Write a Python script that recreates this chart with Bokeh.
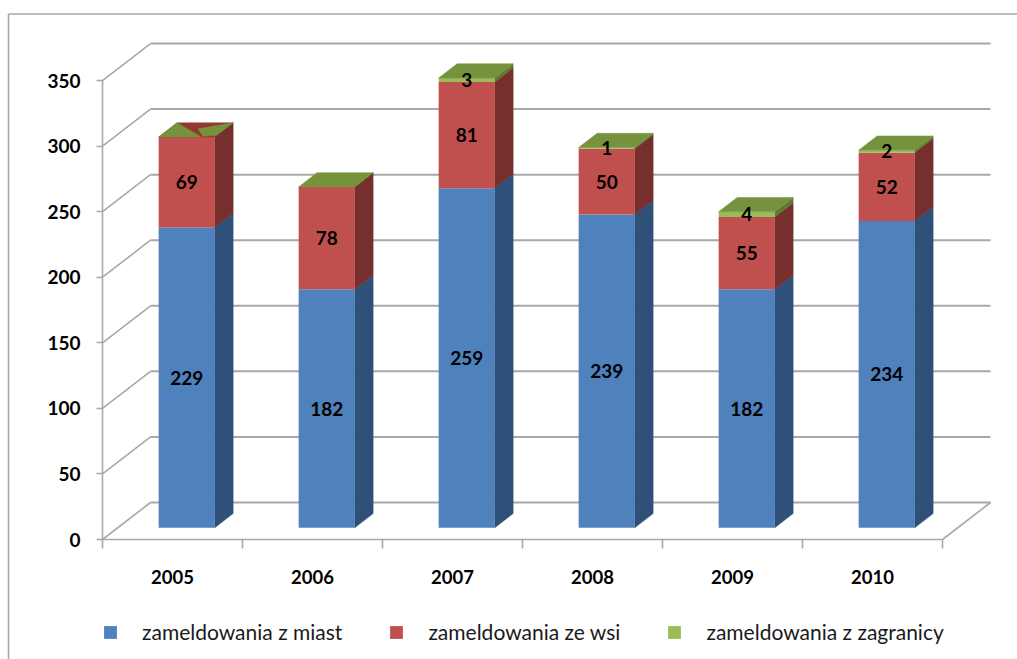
import numpy as np
from bokeh.core.properties import value
from bokeh.embed import file_html
from bokeh.models import ColumnDataSource, FixedTicker, Legend, LegendItem, LinearAxis, Range1d
from bokeh.plotting import figure
from bokeh.resources import INLINE

years = ["2005", "2006", "2007", "2008", "2009", "2010"]
series_names = ["zameldowania z miast", "zameldowania ze wsi", "zameldowania z zagranicy"]
z_miast = [229, 182, 259, 239, 182, 234]
ze_wsi = [69, 78, 81, 50, 55, 52]
z_zagranicy = [0, 0, 3, 1, 4, 2]
y_ticks = [0, 50, 100, 150, 200, 250, 300, 350]

front_colors = ["#4f81bd", "#c0504d", "#9bbb59"]
side_colors = ["#2f5078", "#772f2d", "#5f7a30"]
top_green = "#76923c"
top_red = "#943634"
grid_color = "#a8a8a8"
font = "Lato"

PX_BAND = 140.0          # pixels per category band
PX_UNIT = 1.3114         # pixels per unit of value
W, H = 1017, 659
AX_X, AX_Y = 102.0, 539.0 # canvas position of the axes' origin

x_start = -AX_X / PX_BAND
x_end = (W - AX_X) / PX_BAND
y_end = AX_Y / PX_UNIT
y_start = (AX_Y - H) / PX_UNIT

DX = 48 / PX_BAND        # wall depth in data units
DY = 37 / PX_UNIT
BAR_W = 0.4
SHIFT_X = 0.295          # bar's front plane inside the depth
SHIFT_Y = 0.315
DEPTH = 0.385            # bar's depth as a share of the wall depth

p = figure(width=W, height=H, output_backend="svg", toolbar_location=None,
           x_range=Range1d(x_start, x_end), y_range=Range1d(y_start, y_end),
           x_axis_type=None, y_axis_type=None, min_border=0,
           background_fill_color="white", border_fill_color="white",
           outline_line_color=None)
p.grid.visible = False

# chart box
box_x = x_start + 8 / PX_BAND
box_y = y_end - 13.5 / PX_UNIT
p.line([box_x, box_x], [y_start, box_y], line_color=grid_color, line_width=1.6)
p.line([box_x, x_end], [box_y, box_y], line_color=grid_color, line_width=1.6)

# walls and floor
n = len(years)
ticks = np.array(y_ticks, dtype=float)
p.multi_line([[DX, n + DX] for _ in ticks], [[t + DY, t + DY] for t in ticks],
             line_color=grid_color, line_width=2)
p.multi_line([[0, DX] for _ in ticks], [[t, t + DY] for t in ticks],
             line_color=grid_color, line_width=1.6)
p.line([n, n + DX], [0, DY], line_color=grid_color, line_width=1.6)

# stacked bars
values = np.array([z_miast, ze_wsi, z_zagranicy], dtype=float)
bases = np.vstack([np.zeros(n), np.cumsum(values, axis=0)[:-1]])
tops = bases + values
fx, fy = SHIFT_X * DX, SHIFT_Y * DY
ddx, ddy = DEPTH * DX, DEPTH * DY
lefts = np.arange(n) + 0.5 - BAR_W / 2 + fx
rights = lefts + BAR_W

front_renderers = []
for s in range(3):
    low = bases[s] + fy
    high = tops[s] + fy
    xs = [[r, r + ddx, r + ddx, r] for r in rights]
    ys = [[b, b + ddy, t + ddy, t] for b, t in zip(low, high)]
    p.patches(xs, ys, fill_color=side_colors[s], line_color=side_colors[s], line_width=0.5)
    src = ColumnDataSource(dict(left=lefts, right=rights, bottom=low, top=high))
    front_renderers.append(
        p.quad(left="left", right="right", bottom="bottom", top="top", source=src,
               fill_color=front_colors[s], line_color=None))

# top faces; the first one shows the overlap of the empty segment
stack = tops[-1] + fy
def face(i, u, v):
    return (lefts[i] + u * BAR_W + v * ddx, stack[i] + v * ddy)

xs, ys, colors = [], [], []
def add_face(i, corners, color):
    pts = [face(i, u, v) for u, v in corners]
    xs.append([a for a, _ in pts])
    ys.append([b for _, b in pts])
    colors.append(color)

for i in range(n):
    add_face(i, [(0, 0), (1, 0), (1, 1), (0, 1)], top_red if i == 0 else top_green)
add_face(0, [(0, 0), (0, 1), (0.76, 0)], top_green)
add_face(0, [(0.51, 0.58), (1, 1), (0.99, 0.12), (0.775, 0.05)], top_green)
p.patches(xs, ys, fill_color=colors, line_color=colors, line_width=0.5)

# data labels
lab_x, lab_y, lab_t = [], [], []
for s in range(3):
    for i in range(n):
        if values[s, i] > 0:
            lab_x.append(lefts[i] + BAR_W / 2)
            lab_y.append((bases[s, i] + tops[s, i]) / 2 + fy)
            lab_t.append(str(int(values[s, i])))
p.text(lab_x, lab_y, text=lab_t, text_align="center", text_baseline="middle",
       text_font=value(font), text_font_style="bold", text_font_size="19px", text_color="black")

# axes
left = LinearAxis(ticker=FixedTicker(ticks=y_ticks), fixed_location=0, bounds=(0, 350))
left.major_tick_in = 0
left.major_tick_out = 6
left.minor_tick_line_color = None
left.axis_line_color = grid_color
left.axis_line_width = 1.6
left.major_tick_line_color = grid_color
left.major_tick_line_width = 1.6
left.major_label_standoff = 16
left.major_label_text_font = font
left.major_label_text_font_style = "bold"
left.major_label_text_font_size = "19px"
left.major_label_text_color = "black"
p.add_layout(left, "left")

bottom = LinearAxis(ticker=FixedTicker(ticks=list(range(n + 1))), fixed_location=0, bounds=(0, n))
bottom.major_tick_in = 0
bottom.major_tick_out = 9
bottom.minor_tick_line_color = None
bottom.axis_line_color = grid_color
bottom.axis_line_width = 1.6
bottom.major_tick_line_color = grid_color
bottom.major_tick_line_width = 1.6
bottom.major_label_text_color = None
bottom.major_label_text_font_size = "1px"
p.add_layout(bottom, "below")

names = LinearAxis(ticker=FixedTicker(ticks=[i + 0.5 for i in range(n)]), fixed_location=0)
names.major_label_overrides = {i + 0.5: y for i, y in enumerate(years)}
names.major_tick_in = 0
names.major_tick_out = 0
names.minor_tick_line_color = None
names.axis_line_color = None
names.major_tick_line_color = None
names.major_label_standoff = 30
names.major_label_text_font = font
names.major_label_text_font_style = "bold"
names.major_label_text_font_size = "18.5px"
names.major_label_text_color = "black"
p.add_layout(names, "below")

# legend
legend = Legend(items=[LegendItem(label=nm, renderers=[r]) for nm, r in zip(series_names, front_renderers)],
                orientation="horizontal", location=(102, 15),
                glyph_width=16, glyph_height=16, label_standoff=24, spacing=46,
                margin=0, padding=0, border_line_color=None, background_fill_color=None,
                background_fill_alpha=0, label_text_font=font, label_text_font_size="21px",
                label_text_color="#1a1a1a", label_height=18)
p.add_layout(legend, "center")

open("out.html", "w").write(file_html(p, INLINE))
